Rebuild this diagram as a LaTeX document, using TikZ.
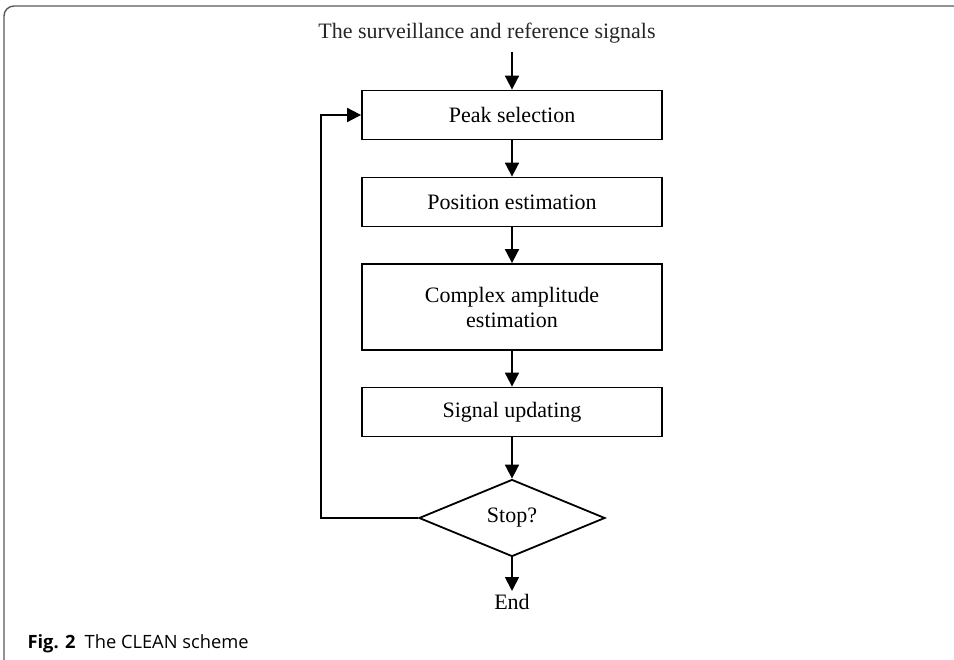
\documentclass[tikz,border=0pt]{standalone}
\usepackage{fontspec}
\setmainfont{Liberation Serif}
\newfontfamily\capfont{Open Sans}
\usetikzlibrary{arrows.meta,shapes.geometric}
\begin{document}
\begin{tikzpicture}[x=1pt,y=-1pt,
  stepbox/.style={draw,line width=1.8pt,minimum width=300pt,minimum height=49pt,inner sep=0pt,align=center,font=\fontsize{22}{26}\selectfont},
  decbox/.style={draw,diamond,aspect=2.42,line width=1.8pt,minimum width=186pt,minimum height=77pt,inner sep=0pt,font=\fontsize{22}{26}\selectfont},
  flow/.style={line width=1.8pt,-{Triangle[width=14pt,length=14pt]}},
  plain/.style={font=\fontsize{22}{26}\selectfont}]
\useasboundingbox (0,0) rectangle (954,660);
\clip (0,0) rectangle (954,660);
\draw[line width=1.4pt,draw=black!65,rounded corners=10pt] (4,6) rectangle (975,680);
\node[plain,text=black!85] (title) at (487,33) {The surveillance and reference signals};
\coordinate (tin) at (512,52);
\node[stepbox] (peak) at (512,115) {Peak selection};
\node[stepbox] (pos) at (512,202) {Position estimation};
\node[stepbox,minimum height=86pt] (amp) at (512,307) {Complex amplitude\\[-1pt]estimation};
\node[stepbox] (upd) at (512,412) {Signal updating};
\node[decbox] (stop) at (512,518) {Stop?};
\node[plain,anchor=north] (end) at (512,591) {End};
\coordinate (lp) at (321,518);
\draw[flow] (tin) -- (peak.north);
\draw[flow] (peak) -- (pos);
\draw[flow] (pos) -- (amp);
\draw[flow] (amp) -- (upd);
\draw[flow] (upd) -- (stop.north);
\draw[flow] (stop.south) -- (end.north);
\draw[flow] (stop.west) -- (lp) |- (peak.west);
\node[anchor=base west,font=\capfont\fontsize{18.3}{22}\selectfont] (cap) at (24,648) {\textbf{Fig. 2}\hspace{0.5em}The CLEAN scheme};
\end{tikzpicture}
\end{document}
